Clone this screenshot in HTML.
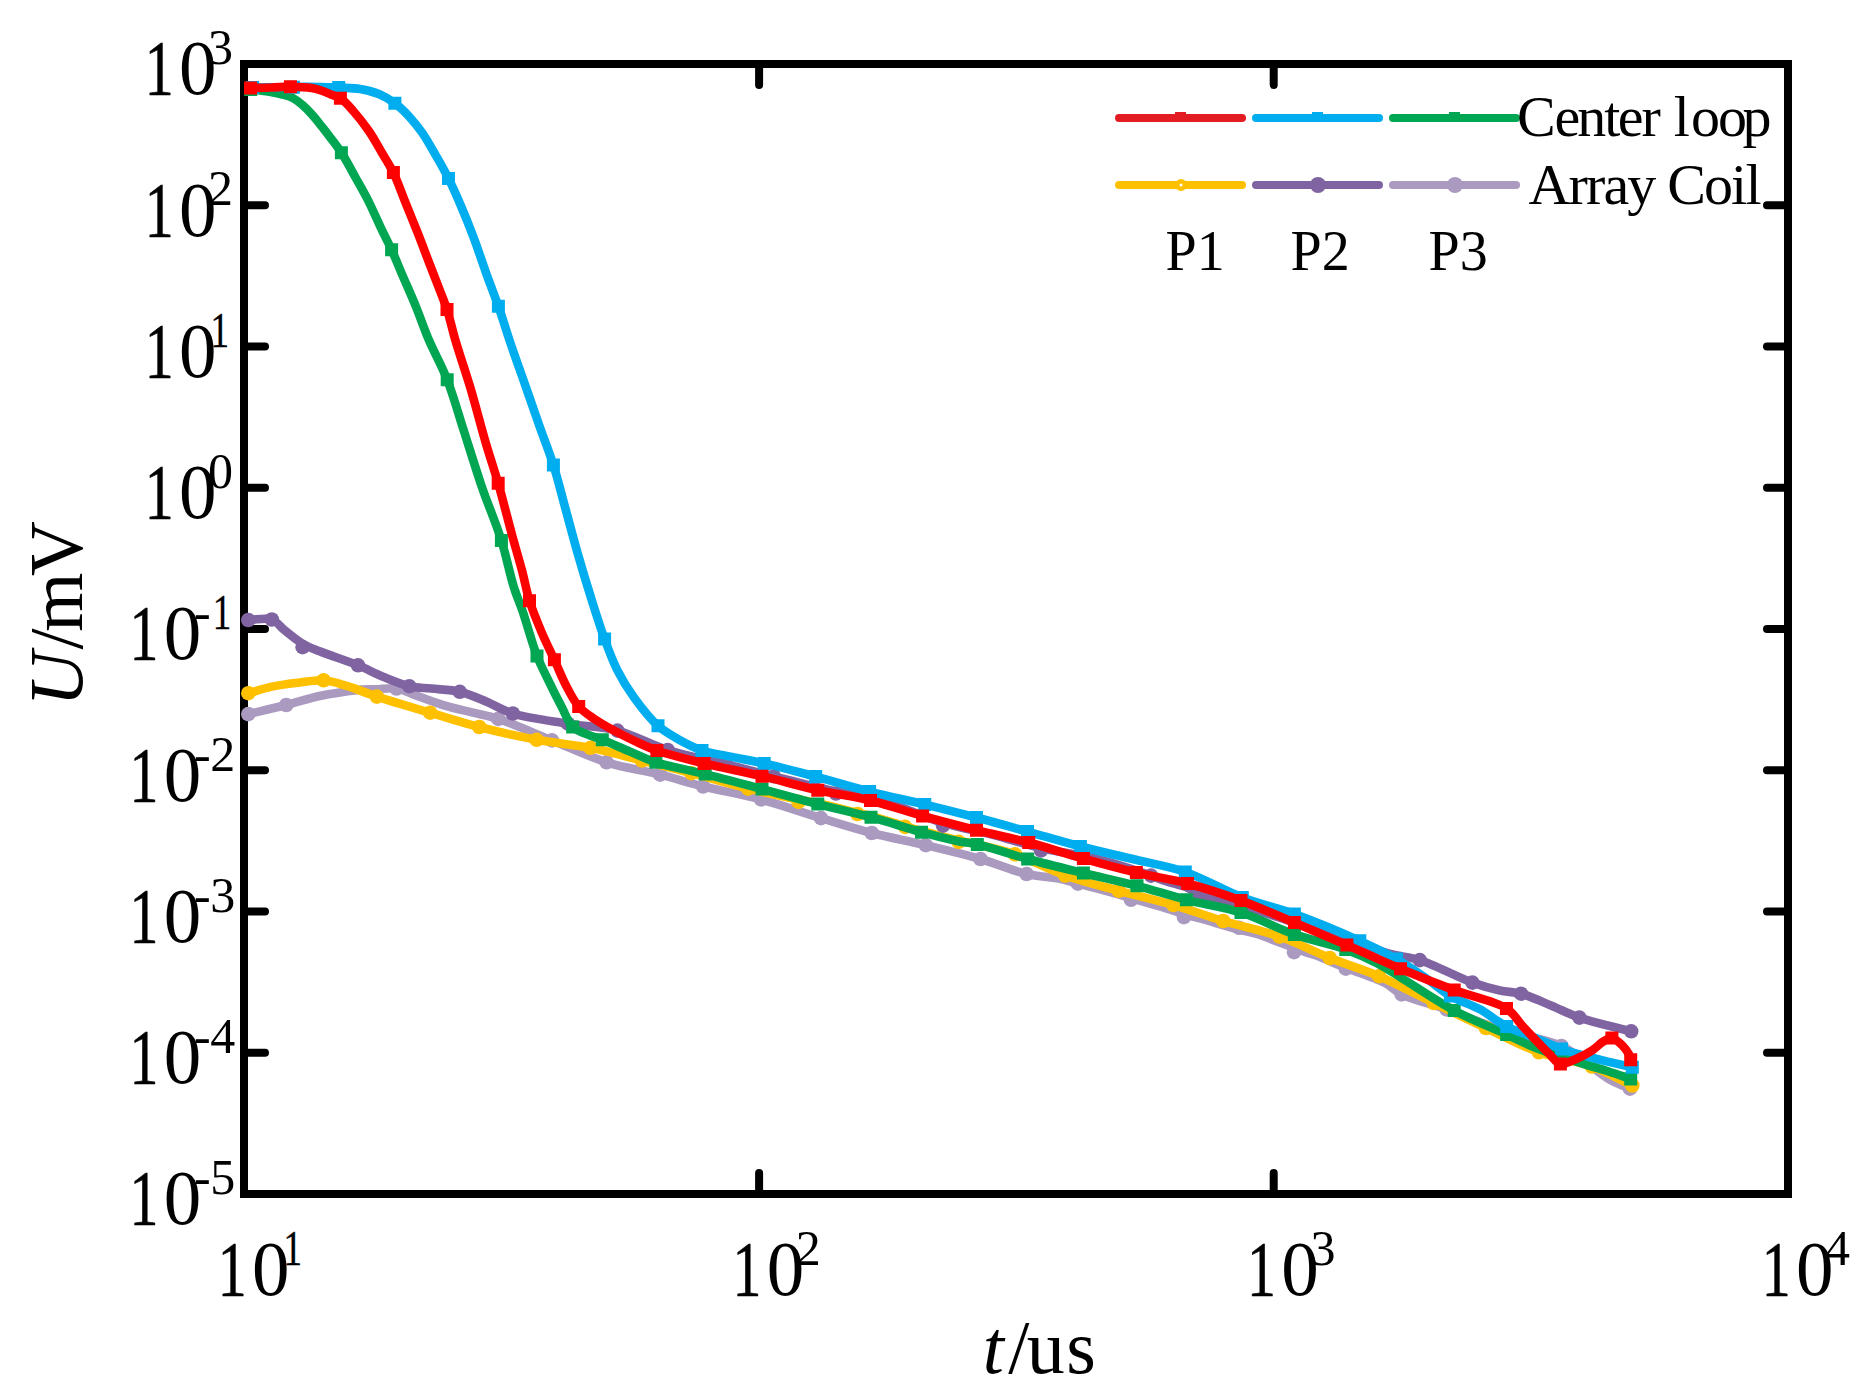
<!DOCTYPE html>
<html lang="en">
<head>
<meta charset="utf-8">
<title>U/mV vs t/us</title>
<style>
html,body{margin:0;padding:0;background:#fff;}
body{width:1866px;height:1399px;overflow:hidden;}
svg{display:block;}
</style>
</head>
<body>
<svg width="1866" height="1399" viewBox="0 0 1866 1399">
<rect width="1866" height="1399" fill="#fff"/>
<path d="M759.1 64v21M759.1 1194v-21M1273.7 64v21M1273.7 1194v-21M244 205.2h21M1788 205.2h-21M244 346.5h21M1788 346.5h-21M244 487.8h21M1788 487.8h-21M244 629h21M1788 629h-21M244 770.2h21M1788 770.2h-21M244 911.5h21M1788 911.5h-21M244 1052.8h21M1788 1052.8h-21" stroke="#000" stroke-width="8" stroke-linecap="round" fill="none"/>
<rect x="244" y="64" width="1544" height="1130" fill="none" stroke="#000" stroke-width="8" stroke-linejoin="miter"/>
<g id="curves">
<path d="M248.3 714.1C260.9 711.1 274 708.1 286.2 705C297.7 702.1 309.4 698.2 319.6 696C328 694.1 335.6 693.1 343 692C349.5 691 355.8 690 361.5 689.6C366.5 689.2 370.3 689.5 375.4 689.4C381.7 689.2 389.7 687.4 396.6 688.5C403.6 689.6 409.8 693.4 417.2 696C425.8 699.1 435.7 702.9 445.1 705.7C454.3 708.5 463.9 710.4 473 712.7C481.6 714.8 488.4 715.7 498.3 718.9C513 723.6 534 733.2 552 740.4C570.1 747.7 588.3 756.5 606.6 762.3C624.3 767.9 643.4 770.4 660.2 774.7C675.3 778.5 687.7 782.7 703.1 786.5C720.9 790.9 741.6 794.2 761 799.4C780.9 804.7 801.8 812.3 821 818.1C838.6 823.4 854.5 828.5 871.8 833C889.5 837.6 907.8 840.8 925.8 845.1C944 849.5 963.1 854 980.5 859C996.6 863.7 1012.3 870.7 1026.6 874C1038.5 876.8 1050.6 876.9 1060 878.8C1067 880.2 1071.9 882.1 1078 883.7C1084.4 885.3 1090.1 886.6 1097.5 888.5C1107.2 891.1 1121.4 895.2 1131 898C1138.2 900.1 1143.4 901.6 1150 903.6C1157.2 905.7 1166.3 908.2 1172.6 910.3C1177.1 911.8 1180 913.2 1184.2 914.5C1189 915.9 1194.8 916.9 1200 918.3C1205.1 919.7 1209.6 921.2 1215 922.8C1221.4 924.7 1228.7 926.9 1236 928.8C1243.7 930.9 1253 932.5 1260 934.8C1265.7 936.6 1270.3 939 1275 940.8C1279.2 942.4 1282.6 943.7 1287 945.3C1292.4 947.3 1299.3 950 1305 952C1310.2 953.8 1314.7 955 1320 957C1326.2 959.4 1332 962.3 1340 965.6C1352 970.5 1373.9 977.2 1385 983C1392.2 986.8 1394.4 990.8 1401.6 994.4C1412.7 999.9 1430.7 1003.8 1446.6 1009.4C1464.8 1015.8 1485.5 1024.8 1505 1031C1523.8 1037 1544.2 1037.9 1561.5 1046C1578.7 1054 1595.8 1071.6 1608.7 1079C1616.9 1083.7 1622.9 1085.5 1630 1088.7" fill="none" stroke="#ab9ac0" stroke-width="8.6" stroke-linejoin="round" stroke-linecap="butt"/>
<g fill="#ab9ac0"><circle cx="248.3" cy="714.1" r="7.3"/><circle cx="286.2" cy="705" r="7.3"/><circle cx="396.6" cy="688.5" r="7.3"/><circle cx="498.3" cy="718.9" r="7.3"/><circle cx="552" cy="740.4" r="7.3"/><circle cx="606.6" cy="762.3" r="7.3"/><circle cx="660.2" cy="774.7" r="7.3"/><circle cx="703.1" cy="786.5" r="7.3"/><circle cx="761" cy="799.4" r="7.3"/><circle cx="821" cy="818.1" r="7.3"/><circle cx="871.8" cy="833" r="7.3"/><circle cx="925.8" cy="845.1" r="7.3"/><circle cx="980.5" cy="859" r="7.3"/><circle cx="1026.6" cy="874" r="7.3"/><circle cx="1078" cy="883.7" r="7.3"/><circle cx="1131" cy="899.8" r="7.3"/><circle cx="1183.9" cy="917.1" r="7.3"/><circle cx="1239" cy="927.8" r="7.3"/><circle cx="1294" cy="952.2" r="7.3"/><circle cx="1345.8" cy="968.7" r="7.3"/><circle cx="1401.6" cy="994.4" r="7.3"/><circle cx="1446.6" cy="1009.4" r="7.3"/><circle cx="1505" cy="1031" r="7.3"/><circle cx="1561.5" cy="1046" r="7.3"/><circle cx="1630" cy="1088.7" r="7.3"/></g>
<path d="M248.3 693.2C255.8 691.1 262.9 688.6 270.9 686.9C279.6 685 289.7 683.8 298.7 682.7C307.2 681.6 315.4 679.7 323.6 680.3C331.7 680.9 339.2 683.7 347.5 686.2C356.8 689 365.5 692.9 376.8 696.6C391.9 701.6 412.8 707.5 430.2 712.7C446.9 717.6 462.2 722.6 479.3 727C497.6 731.7 517.8 736.3 536.7 739.8C554.9 743.2 572.9 744.3 590.6 747.8C608 751.2 625 756.2 641.9 760.5C658.6 764.7 674.4 768.7 691.4 773.2C709.7 778 729.7 784.1 748.1 788.6C765.3 792.8 785.6 796.9 798.5 799.5C806.5 801.1 810.4 801.5 818 803.1C828.9 805.4 847.8 810.5 857.5 812.8C863.2 814.2 865.5 814.5 871 816C879.8 818.4 895.9 823.6 905.2 826.3C911.6 828.2 915 829.2 921.5 831C931.2 833.6 944.5 836.8 958 840.2C974.9 844.4 996.8 848.3 1015 854.3C1032.5 860.1 1048 869.4 1065.2 875.5C1082.6 881.6 1100.8 885.9 1118.8 890.8C1136.9 895.7 1155.8 899.9 1173.5 905C1190.6 910 1206.2 915.9 1223.3 921C1241.4 926.4 1261.4 930.2 1279.4 936.5C1296.9 942.6 1313 951.3 1329.8 958C1346.2 964.5 1362.4 969.1 1379.1 976.2C1397.1 983.9 1415.8 994.3 1433.8 1003C1451.4 1011.5 1468.5 1019.8 1486 1028C1503.5 1036.2 1521 1045.8 1538.9 1052.3C1556.3 1058.6 1575.6 1060.6 1591.8 1066.5C1606.5 1071.9 1618.8 1079.2 1632.3 1085.5" fill="none" stroke="#ffc000" stroke-width="8.6" stroke-linejoin="round" stroke-linecap="butt"/>
<g fill="#ffc000"><circle cx="248.3" cy="693.2" r="7.3"/><circle cx="323.6" cy="680.3" r="7.3"/><circle cx="376.8" cy="696.6" r="7.3"/><circle cx="430.2" cy="712.7" r="7.3"/><circle cx="479.3" cy="727" r="7.3"/><circle cx="536.7" cy="739.8" r="7.3"/><circle cx="590.6" cy="747.8" r="7.3"/><circle cx="641.9" cy="760.5" r="7.3"/><circle cx="691.4" cy="773.2" r="7.3"/><circle cx="748.1" cy="788.6" r="7.3"/><circle cx="798.5" cy="801.9" r="7.3"/><circle cx="857.5" cy="814" r="7.3"/><circle cx="905.2" cy="826.9" r="7.3"/><circle cx="958.7" cy="841.9" r="7.3"/><circle cx="1015" cy="854.3" r="7.3"/><circle cx="1065.2" cy="875.5" r="7.3"/><circle cx="1118.8" cy="890.8" r="7.3"/><circle cx="1173.5" cy="905" r="7.3"/><circle cx="1223.3" cy="921" r="7.3"/><circle cx="1279.4" cy="936.5" r="7.3"/><circle cx="1329.8" cy="958" r="7.3"/><circle cx="1379.1" cy="976.2" r="7.3"/><circle cx="1433.8" cy="1003" r="7.3"/><circle cx="1486" cy="1028" r="7.3"/><circle cx="1538.9" cy="1052.3" r="7.3"/><circle cx="1591.8" cy="1066.5" r="7.3"/><circle cx="1632.3" cy="1085.5" r="7.3"/></g>
<path d="M248.3 620C256.1 619.8 265.4 617.3 271.8 619.5C277.2 621.4 280.1 626.7 284.8 630.4C290.2 634.7 296.5 640.1 302.6 643.7C308.2 647 312.7 648.5 319.6 651.3C329.8 655.4 346.7 660.7 358 665.3C367.1 669 374 673 382.4 676.4C391.1 679.9 400.7 684.2 409.3 686.2C416.9 688 423.4 687.7 431.2 688.6C440.1 689.6 450.6 689.6 459.8 691.8C468.9 694 477.3 697.9 486 701.5C494.9 705.2 502 710.1 512.8 713.5C527.7 718.1 550.1 720.8 568 723.7C584.9 726.4 601.1 726.4 617.4 730.6C634.3 735 650.1 744.5 667.7 750C686.4 755.9 708.1 759.8 726.6 764.4C743.2 768.5 757 772.1 773.8 776.3C793.1 781.1 820.1 788.2 836 791.5C845.8 793.5 851.6 793.7 860 795.5C869.5 797.5 878.7 799.8 890 803.3C905.3 808.1 925.5 817.5 943 822.8C959.5 827.8 975.7 830.3 992 834.5C1008.5 838.8 1024.8 844.3 1041.6 848.2C1058.5 852.1 1075.5 853.7 1093 858C1111.9 862.6 1138.3 871.2 1151 875.6C1157.3 877.8 1159.7 879.2 1165 881C1171.6 883.3 1181.4 885 1187.6 887.8C1192.4 889.9 1194.9 893.2 1199.5 895C1204.7 897 1209.6 896.5 1217.5 898.5C1233.6 902.6 1265.5 913.2 1290 921C1315.4 929.1 1348.5 940.4 1367.3 946.5C1378 950 1384 952.2 1392.6 954.5C1401.4 956.8 1409.4 956.9 1419.8 960.1C1434.7 964.8 1457.5 977.3 1472.4 982.6C1482.9 986.3 1491.4 988.6 1500 990.5C1507.4 992.1 1513.5 991.7 1521 993.7C1530.4 996.2 1541.6 1001.6 1551.5 1005.7C1561 1009.6 1568.5 1013.9 1579.4 1017.6C1593.9 1022.6 1613.9 1026.7 1631.2 1031.3" fill="none" stroke="#8064a2" stroke-width="8.6" stroke-linejoin="round" stroke-linecap="butt"/>
<g fill="#8064a2"><circle cx="248.3" cy="620" r="7.3"/><circle cx="271.8" cy="619.5" r="7.3"/><circle cx="302.6" cy="647.2" r="7.3"/><circle cx="358" cy="665.3" r="7.3"/><circle cx="409.3" cy="686.2" r="7.3"/><circle cx="459.8" cy="691.8" r="7.3"/><circle cx="512.8" cy="713.5" r="7.3"/><circle cx="568" cy="723.7" r="7.3"/><circle cx="617.4" cy="730.6" r="7.3"/><circle cx="667.7" cy="750" r="7.3"/><circle cx="726.6" cy="764.4" r="7.3"/><circle cx="773.8" cy="776.3" r="7.3"/><circle cx="836" cy="793.5" r="7.3"/><circle cx="943" cy="825.6" r="7.3"/><circle cx="1041" cy="850.4" r="7.3"/><circle cx="1151" cy="875.6" r="7.3"/><circle cx="1199.5" cy="895" r="7.3"/><circle cx="1419.8" cy="960.1" r="7.3"/><circle cx="1472.4" cy="982.6" r="7.3"/><circle cx="1521" cy="993.7" r="7.3"/><circle cx="1579.4" cy="1017.6" r="7.3"/><circle cx="1631.2" cy="1031.3" r="7.3"/></g>
<path d="M250.7 89.5C256.5 90.2 262.5 90.6 268 91.5C273.1 92.3 278.3 93.3 282.6 94.5C286.2 95.5 289.2 96.2 292.3 97.8C295.6 99.5 298.8 101.9 301.9 104.5C305.3 107.3 308.5 110.7 311.6 114.2C314.9 117.8 318 121.8 321.2 125.8C324.5 129.9 327.6 134 330.9 138.3C334.4 142.9 337.8 147.1 341.4 152.7C346 159.8 351.2 169.7 355.8 178C360.3 186 364.5 193.3 368.7 201.6C373.1 210.4 377.5 220.9 381.6 229.4C385.1 236.7 388.3 242.5 391.6 249.8C395.4 258.1 399.1 267.4 403 276.6C407.2 286.3 411.7 296.3 415.9 306.6C420.3 317.4 424 328.5 428.9 340C434.3 352.7 441.6 365.4 447.2 379.7C453.5 395.8 458.6 414.6 464.3 432.2C470 450 475.4 467.9 481.5 485.8C487.7 504 495.9 522.9 501.4 540.5C506.4 556.4 509.6 573.5 513.7 586.6C516.8 596.5 519.6 602.5 522.9 612.2C527.2 624.8 532.1 643.6 537 656C540.8 665.6 544.6 672.5 548.6 680.8C552.7 689.3 557.3 698.5 561.5 706.5C565.3 713.7 567.9 722.2 572.7 726.9C576.8 730.9 582.2 732.2 587.2 734.4C592.1 736.5 596.5 737.6 602.3 739.8C610.2 742.9 621 747.8 630.1 751.6C638.9 755.3 645.8 759 655.9 762.3C669.6 766.7 688.2 769.8 705.2 774.1C723.5 778.7 743.2 784.1 762 789.1C780.7 794.1 799.4 799.4 817.8 804.1C835.7 808.7 853.6 812.5 871 817.2C888.1 821.8 906 828 921.5 832.2C934.6 835.8 947.7 839.1 958 841.2C965.4 842.7 969.4 842.6 977.3 844.4C990.2 847.3 1010.4 854.3 1027.7 859C1045.8 863.9 1065 868.5 1083.4 873C1101.4 877.4 1119.5 881.2 1137 885.8C1153.8 890.2 1169.5 895.4 1186.4 899.8C1204.1 904.4 1223.1 906.8 1241 912.5C1259.1 918.3 1276.6 928.2 1294.4 934.4C1311.5 940.4 1330.9 943.9 1345.8 949.4C1357.8 953.8 1367.9 958.5 1377.5 963.5C1385.9 967.9 1391.3 971.7 1400.5 977.3C1414.7 985.9 1436.1 1000.8 1454.2 1010.5C1471.5 1019.8 1492.1 1027.8 1506.7 1034.5C1517.2 1039.3 1524.6 1043.2 1533.6 1046.9C1542.5 1050.5 1551.4 1053.5 1560.4 1056.5C1569.3 1059.5 1578.7 1062.5 1587.2 1065.1C1594.7 1067.4 1601.5 1069.2 1608.7 1071.5C1616 1073.8 1623.4 1076.5 1630.7 1079" fill="none" stroke="#00a651" stroke-width="8.6" stroke-linejoin="round" stroke-linecap="butt"/>
<path d="M244.2 83h13v13h-13zM334.9 146.2h13v13h-13zM385.1 243.3h13v13h-13zM440.7 373.2h13v13h-13zM494.9 534h13v13h-13zM530.5 649.5h13v13h-13zM566.2 720.4h13v13h-13zM595.8 733.3h13v13h-13zM649.4 755.8h13v13h-13zM698.7 767.6h13v13h-13zM755.5 782.6h13v13h-13zM811.3 797.6h13v13h-13zM864.5 810.7h13v13h-13zM915 825.7h13v13h-13zM970.8 837.9h13v13h-13zM1021.2 852.5h13v13h-13zM1076.9 866.5h13v13h-13zM1130.5 879.3h13v13h-13zM1179.9 893.3h13v13h-13zM1234.5 906h13v13h-13zM1287.9 927.9h13v13h-13zM1339.3 942.9h13v13h-13zM1447.7 1004h13v13h-13zM1500.2 1028h13v13h-13zM1553.9 1050h13v13h-13zM1624.2 1072.5h13v13h-13z" fill="#00a651"/>
<path d="M252.7 87.5C266.3 87.4 284.1 87.4 293.4 87.2C298.2 87.1 299.6 86.8 304.3 86.8C312.6 86.7 328.6 87.2 338.7 87.6C346.7 88 353.2 87.8 360.1 89C366.8 90.1 373.5 91.8 379.4 94.3C385 96.7 390 99.7 394.9 103.3C400 107.1 404.9 111.9 409.4 116.8C414 121.8 418.2 127 422.3 132.9C426.8 139.4 430.9 147 435.2 154.4C439.7 162.1 444.3 170 448.5 178.4C452.9 187.1 456.8 196.3 460.9 205.8C465.3 216.1 469.6 226.9 473.8 238C478.2 249.7 482.4 262.8 486.6 274.5C490.6 285.5 494.6 295.4 498.4 306.2C502.3 317.2 505.4 328.1 509.4 340C513.9 353.5 519.4 368.6 524.4 382.9C529.4 397.2 534.5 411.8 539.4 425.8C544.1 439.2 549.2 451.6 553.4 465C557.8 478.8 561.1 492.8 565.1 507.3C569.3 522.6 573.6 539.2 578 554.5C582.2 569.2 586.4 583.2 590.9 597.4C595.3 611.4 599.9 626.2 604.6 639C608.7 650.2 612.3 660.2 617.3 670.1C622.2 679.9 627.8 689 634.4 698C641.3 707.5 650 718.7 658 725.8C664.4 731.5 670.3 734.7 677.3 738.7C684.9 743 693.6 747.6 702 750.5C710.1 753.3 717.5 754 726.6 755.9C737.8 758.2 750.7 760.3 764.2 763.4C780.1 767 798.4 772 815.7 776.6C833.5 781.4 851.5 787 869.6 791.6C887.8 796.2 906.6 800 924.7 804.4C942.3 808.7 959.3 813 976.5 817.5C993.6 822 1010.4 826.8 1027.5 831.6C1045 836.5 1062.8 841.9 1080.4 846.5C1097.8 851 1115.2 854.8 1132.7 859C1150.2 863.3 1167.7 865.9 1185.3 872C1204.2 878.5 1223.5 890.4 1242.3 897.5C1259.9 904.2 1276.2 907.4 1294.4 914C1315.1 921.5 1341.3 932.4 1359.8 940.8C1373.9 947.2 1385 952.4 1396.5 959C1407.3 965.2 1417.6 972.5 1427 979C1435.4 984.8 1441.9 991.1 1450.4 996C1459.4 1001.2 1470.6 1004.2 1480 1009.3C1489.3 1014.4 1497.5 1021.9 1506.7 1026.6C1515.4 1031.1 1524.6 1033.5 1533.6 1037.2C1542.8 1041 1552.3 1045.7 1561.5 1049C1570.2 1052.1 1579 1054.3 1587.2 1056.5C1594.7 1058.5 1601.4 1060.2 1608.7 1061.9C1616.4 1063.7 1624.4 1065.4 1632.3 1067.2" fill="none" stroke="#00adef" stroke-width="8.6" stroke-linejoin="round" stroke-linecap="butt"/>
<path d="M246.2 81h13v13h-13zM286.9 80.7h13v13h-13zM332.2 81.1h13v13h-13zM388.4 96.8h13v13h-13zM442 171.9h13v13h-13zM491.9 299.7h13v13h-13zM546.9 458.5h13v13h-13zM598.1 632.5h13v13h-13zM651.5 719.3h13v13h-13zM695.5 744h13v13h-13zM757.7 756.9h13v13h-13zM809.2 770.1h13v13h-13zM863.1 785.1h13v13h-13zM918.2 797.9h13v13h-13zM970 811h13v13h-13zM1021 825.1h13v13h-13zM1073.9 840h13v13h-13zM1178.8 865.5h13v13h-13zM1235.8 891h13v13h-13zM1287.9 907.5h13v13h-13zM1353.3 934.3h13v13h-13zM1390 952.5h13v13h-13zM1443.9 989.5h13v13h-13zM1500.2 1020.1h13v13h-13zM1555 1042.5h13v13h-13zM1625.8 1060.7h13v13h-13z" fill="#00adef"/>
<path d="M250.5 87.9C257.7 87.8 265.1 87.7 272 87.5C278.4 87.3 284.1 86.7 290.4 86.8C297.2 86.9 305.9 87.2 311.6 88.1C315.5 88.7 318 89.5 321.2 90.5C324.5 91.6 327.7 93.1 330.9 94.4C334.1 95.7 337.2 96.1 340.4 98.2C344.8 101.1 349.3 106.5 353.7 111.5C358.7 117.2 364.1 124.1 368.7 130.8C373.4 137.6 377.4 145.1 381.6 152.2C385.7 159.1 389.7 165.1 393.4 172.6C397.6 181.3 401.1 191.7 405.1 201.6C409.3 212 413.9 223.4 418 233.7C421.8 243.3 425.1 252.3 428.7 261.6C432.3 270.9 436.2 281 439.5 289.5C442.2 296.7 444.6 302 447 309.4C449.9 318.4 452 328.6 455.3 340C459.6 354.5 465.8 372.5 470.8 389.3C476 406.8 480.9 426.4 485.8 443C490 457.4 494.1 469.1 498.2 483.3C502.7 499 507.3 517.5 511.5 533C515.2 546.7 519.1 559.6 522.3 571.6C525 582 526.4 590.9 529.5 600.8C532.9 611.5 537.8 623.3 542.2 633.6C546.2 642.9 550.4 651.1 554.4 659.8C558.3 668.3 561.6 677.1 565.8 685.1C569.8 692.7 573.7 700.7 578.7 706.5C583.1 711.6 588.2 714.7 593.7 718.5C599.6 722.6 606.3 726.4 613 730.1C619.9 733.9 627.1 737.5 634.4 740.9C641.8 744.3 647.9 747.4 656.9 750.5C669.6 754.9 687.5 759.3 704.1 763.4C722.4 767.9 742.9 771.7 762 776.2C780.8 780.6 799.4 786.1 817.8 790.2C835.6 794.2 853.1 796.2 870.5 800.5C888 804.8 905 811.1 922.6 816C940.4 821 958.6 825.7 976.5 830.2C994 834.6 1011.2 837.9 1028.7 842.5C1046.8 847.3 1065.3 853.5 1083.4 858.6C1101.2 863.6 1118.8 868.4 1136.4 872.6C1153.5 876.7 1170.4 879 1187.5 883.5C1205.2 888.2 1223.3 894.1 1241 900.6C1258.9 907.2 1276.7 915.2 1294.4 922.6C1312 930 1329.3 937.5 1346.9 945.1C1364.7 952.8 1382.6 961.2 1400.5 968.7C1418.3 976.2 1436.3 983.4 1454.2 990.1C1471.7 996.6 1494.6 1000.5 1506.5 1008.4C1514.4 1013.6 1517.4 1020.6 1522.9 1026.5C1528.3 1032.3 1534.2 1038.6 1539 1043.6C1542.9 1047.6 1546.1 1051 1549.7 1054.4C1553.2 1057.7 1556.2 1063.1 1560.4 1064C1565 1065 1571.2 1061 1576.5 1058.7C1582 1056.4 1587.9 1053.2 1592.6 1050.1C1596.7 1047.4 1599.8 1043.6 1603.3 1041.5C1606.2 1039.8 1609 1037.6 1611.9 1038C1615.4 1038.4 1619.7 1042.9 1622.6 1045.8C1625.2 1048.4 1627.6 1051.8 1629 1054.4C1630 1056.3 1630.1 1057.9 1630.7 1059.7" fill="none" stroke="#ff0000" stroke-width="8.6" stroke-linejoin="round" stroke-linecap="butt"/>
<path d="M244 81.4h13v13h-13zM283.9 80.3h13v13h-13zM333.9 91.7h13v13h-13zM386.9 166.1h13v13h-13zM440.5 302.9h13v13h-13zM491.7 476.8h13v13h-13zM523 594.3h13v13h-13zM547.9 653.3h13v13h-13zM572.2 700h13v13h-13zM650.4 744h13v13h-13zM697.6 756.9h13v13h-13zM755.5 769.7h13v13h-13zM811.3 783.7h13v13h-13zM864 794h13v13h-13zM916.1 809.5h13v13h-13zM970 823.7h13v13h-13zM1022.2 836h13v13h-13zM1076.9 852.1h13v13h-13zM1129.9 866.1h13v13h-13zM1181 877h13v13h-13zM1234.5 894.1h13v13h-13zM1287.9 916.1h13v13h-13zM1340.4 938.6h13v13h-13zM1394 962.2h13v13h-13zM1447.7 983.6h13v13h-13zM1500 1001.9h13v13h-13zM1553.9 1057.5h13v13h-13zM1605.4 1031.5h13v13h-13zM1624.2 1053.2h13v13h-13z" fill="#ff0000"/>
</g>
<g id="legend" stroke-width="8" stroke-linecap="round" fill="none">
<path d="M1119 118H1242" stroke="#e31b23"/>
<path d="M1256 118H1379" stroke="#00adef"/>
<path d="M1393 118H1516" stroke="#00a651"/>
<path d="M1119 185H1242" stroke="#ffc000"/>
<path d="M1256 185H1379" stroke="#8064a2"/>
<path d="M1393 185H1516" stroke="#ab9ac0"/>
</g>
<rect x="1175" y="112" width="11" height="10" fill="#e31b23"/>
<rect x="1312" y="112" width="11" height="10" fill="#00adef"/>
<rect x="1449" y="112" width="11" height="10" fill="#00a651"/>
<circle cx="1181" cy="185" r="3.75" fill="#fff" stroke="#ffc000" stroke-width="4.5"/>
<circle cx="1318" cy="185" r="8" fill="#8064a2"/>
<circle cx="1455" cy="185" r="8" fill="#ab9ac0"/>
<g font-family="'Liberation Serif', 'Times New Roman', serif" fill="#000">
<text y="136.3" font-size="58" x="1517 1554.4 1577.3 1604.3 1617.7 1641.4 1659.6 1673.7 1691.1 1717.9 1742.6">Center loop</text>
<text x="1528.5" y="204" font-size="58" textLength="233" lengthAdjust="spacing">Array Coil</text>
<text x="1165.5" y="269.7" font-size="56">P1</text>
<text x="1290.5" y="269.7" font-size="56">P2</text>
<text x="1428.5" y="269.7" font-size="56">P3</text>
<text y="94.4" font-size="78.3"><tspan x="144.8" textLength="28.9" lengthAdjust="spacingAndGlyphs" stroke="#000" stroke-width="0.6">1</tspan><tspan x="179" textLength="37.5" lengthAdjust="spacingAndGlyphs">0</tspan></text>
<text y="64.2" font-size="50"><tspan x="208.1">3</tspan></text>
<text y="235.7" font-size="78.3"><tspan x="144.8" textLength="28.9" lengthAdjust="spacingAndGlyphs" stroke="#000" stroke-width="0.6">1</tspan><tspan x="179" textLength="37.5" lengthAdjust="spacingAndGlyphs">0</tspan></text>
<text y="205.4" font-size="50"><tspan x="208.1">2</tspan></text>
<text y="376.9" font-size="78.3"><tspan x="144.8" textLength="28.9" lengthAdjust="spacingAndGlyphs" stroke="#000" stroke-width="0.6">1</tspan><tspan x="179" textLength="37.5" lengthAdjust="spacingAndGlyphs">0</tspan></text>
<text y="346.7" font-size="50"><tspan x="210.5" textLength="18.5" lengthAdjust="spacingAndGlyphs" stroke="#000" stroke-width="0.4">1</tspan></text>
<text y="518.1" font-size="78.3"><tspan x="144.8" textLength="28.9" lengthAdjust="spacingAndGlyphs" stroke="#000" stroke-width="0.6">1</tspan><tspan x="179" textLength="37.5" lengthAdjust="spacingAndGlyphs">0</tspan></text>
<text y="487.9" font-size="50"><tspan x="208.1">0</tspan></text>
<text y="659.4" font-size="78.3"><tspan x="129.6" textLength="28.9" lengthAdjust="spacingAndGlyphs" stroke="#000" stroke-width="0.6">1</tspan><tspan x="163.8" textLength="37.5" lengthAdjust="spacingAndGlyphs">0</tspan></text>
<text y="629.2" font-size="50"><tspan x="193.9">-</tspan><tspan x="212.7" textLength="18.5" lengthAdjust="spacingAndGlyphs" stroke="#000" stroke-width="0.4">1</tspan></text>
<text y="800.6" font-size="78.3"><tspan x="129.6" textLength="28.9" lengthAdjust="spacingAndGlyphs" stroke="#000" stroke-width="0.6">1</tspan><tspan x="163.8" textLength="37.5" lengthAdjust="spacingAndGlyphs">0</tspan></text>
<text y="770.5" font-size="50"><tspan x="193.9">-</tspan><tspan x="210.3">2</tspan></text>
<text y="941.9" font-size="78.3"><tspan x="129.6" textLength="28.9" lengthAdjust="spacingAndGlyphs" stroke="#000" stroke-width="0.6">1</tspan><tspan x="163.8" textLength="37.5" lengthAdjust="spacingAndGlyphs">0</tspan></text>
<text y="911.7" font-size="50"><tspan x="193.9">-</tspan><tspan x="210.3">3</tspan></text>
<text y="1083.2" font-size="78.3"><tspan x="129.6" textLength="28.9" lengthAdjust="spacingAndGlyphs" stroke="#000" stroke-width="0.6">1</tspan><tspan x="163.8" textLength="37.5" lengthAdjust="spacingAndGlyphs">0</tspan></text>
<text y="1053" font-size="50"><tspan x="193.9">-</tspan><tspan x="210.3">4</tspan></text>
<text y="1224.4" font-size="78.3"><tspan x="129.6" textLength="28.9" lengthAdjust="spacingAndGlyphs" stroke="#000" stroke-width="0.6">1</tspan><tspan x="163.8" textLength="37.5" lengthAdjust="spacingAndGlyphs">0</tspan></text>
<text y="1194.2" font-size="50"><tspan x="193.9">-</tspan><tspan x="210.3">5</tspan></text>
<text y="1295" font-size="78.3"><tspan x="217.8" textLength="28.9" lengthAdjust="spacingAndGlyphs" stroke="#000" stroke-width="0.6">1</tspan><tspan x="252" textLength="37.5" lengthAdjust="spacingAndGlyphs">0</tspan></text>
<text y="1264.6" font-size="50"><tspan x="283.5" textLength="18.5" lengthAdjust="spacingAndGlyphs" stroke="#000" stroke-width="0.4">1</tspan></text>
<text y="1295" font-size="78.3"><tspan x="732.5" textLength="28.9" lengthAdjust="spacingAndGlyphs" stroke="#000" stroke-width="0.6">1</tspan><tspan x="766.7" textLength="37.5" lengthAdjust="spacingAndGlyphs">0</tspan></text>
<text y="1264.6" font-size="50"><tspan x="795.8">2</tspan></text>
<text y="1295" font-size="78.3"><tspan x="1247.1" textLength="28.9" lengthAdjust="spacingAndGlyphs" stroke="#000" stroke-width="0.6">1</tspan><tspan x="1281.3" textLength="37.5" lengthAdjust="spacingAndGlyphs">0</tspan></text>
<text y="1264.6" font-size="50"><tspan x="1310.4">3</tspan></text>
<text y="1295" font-size="78.3"><tspan x="1761.8" textLength="28.9" lengthAdjust="spacingAndGlyphs" stroke="#000" stroke-width="0.6">1</tspan><tspan x="1796" textLength="37.5" lengthAdjust="spacingAndGlyphs">0</tspan></text>
<text y="1264.6" font-size="50"><tspan x="1825.1">4</tspan></text>
<text y="1372.5" font-size="76" x="982.7 1008.3 1026.7 1066.3"><tspan font-style="italic">t</tspan>/us</text>
<text transform="translate(82 701) rotate(-90)" font-size="76" x="-5.4 51.5 69.3 125.1"><tspan font-style="italic">U</tspan>/mV</text>
</g>
</svg>
</body>
</html>
